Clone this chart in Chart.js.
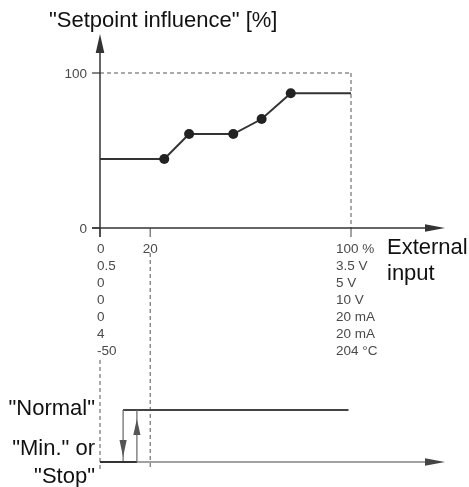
<!DOCTYPE html>
<html>
<head>
<meta charset="utf-8">
<script src="https://cdn.jsdelivr.net/npm/chart.js@4/dist/chart.umd.min.js"></script>
<style>
  html, body { margin: 0; padding: 0; background: #fff; }
  #wrap { width: 469px; height: 487px; position: relative; }
</style>
</head>
<body>
<div id="wrap"><canvas id="chart"></canvas></div>
<script>
// external input (% of range) -> setpoint influence (%)
var inputPct  = [0, 25.6, 35.5, 53.1, 64.4, 76, 100];
var influence = [44.5, 44.5, 60.6, 60.6, 70.3, 86.9, 86.9];
var isMarker  = [0, 1, 1, 1, 1, 1, 0];

// switching signal (0 = "Min."/"Stop", 1 = "Normal")
var switchOnX  = [0, 14.7, 14.7];
var switchOnY  = [0, 0, 1];
var switchOffX = [99, 9.2, 9.2];
var switchOffY = [1, 1, 0];

var yTicks = [0, 100];
var xTicks = [0, 20, 100];
var xTickLabels = [
  ['0', '0.5', '0', '0', '0', '4', '-50'],
  ['20'],
  ['100 %', '3.5 V', '5 V', '10 V', '20 mA', '20 mA', '204 °C']
];
var yTitle = '"Setpoint influence" [%]';
var xTitle = ['External', 'input'];
var stateLabels = ['"Normal"', '"Min." or', '"Stop"'];

var FONT = '"Liberation Sans", Arial, sans-serif';

function pts(xs, ys) {
  return xs.map(function (x, i) { return { x: x, y: ys[i] }; });
}

function line(c, x1, y1, x2, y2) {
  c.beginPath(); c.moveTo(x1, y1); c.lineTo(x2, y2); c.stroke();
}

// filled arrow head, tip at (x, y)
function head(c, x, y, dir, len, half) {
  c.beginPath();
  c.moveTo(x, y);
  if (dir === 'up')    { c.lineTo(x - half, y + len); c.lineTo(x + half, y + len); }
  if (dir === 'down')  { c.lineTo(x - half, y - len); c.lineTo(x + half, y - len); }
  if (dir === 'right') { c.lineTo(x - len, y - half); c.lineTo(x - len, y + half); }
  c.closePath(); c.fill();
}

var overlay = {
  id: 'overlay',
  beforeDatasetsDraw: function (chart) {
    var c = chart.ctx, X = chart.scales.x, Y = chart.scales.y, S = chart.scales.ys;
    var x0 = X.getPixelForValue(0), x20 = X.getPixelForValue(20), x100 = X.getPixelForValue(100);
    var y0 = Y.getPixelForValue(0), y100 = Y.getPixelForValue(100);
    var s0 = S.getPixelForValue(0);
    var xEnd = 445;
    c.save();

    // dashed guides
    c.strokeStyle = '#555'; c.lineWidth = 1; c.setLineDash([4, 3]);
    line(c, x0, y100, x100, y100);
    line(c, x100, y100, x100, y0);
    line(c, x20, y0 + 25, x20, s0 + 6);
    line(c, x0, y0 + 132, x0, s0 + 8);
    c.setLineDash([]);

    // tick marks
    c.strokeStyle = '#666'; c.lineWidth = 1.2;
    xTicks.forEach(function (v) {
      var px = X.getPixelForValue(v);
      line(c, px, y0, px, y0 + 9);
    });
    c.strokeStyle = '#333';
    yTicks.forEach(function (v) {
      var py = Y.getPixelForValue(v);
      line(c, x0 - 8, py, x0, py);
    });

    // axes
    c.strokeStyle = '#333'; c.fillStyle = '#333'; c.lineWidth = 1.5;
    line(c, x0, y0 + 9, x0, 50);
    head(c, x0, 34, 'up', 19, 4.3);
    line(c, x0 - 8, y0, xEnd - 18, y0);
    head(c, xEnd, y0, 'right', 20, 3.8);
    c.lineWidth = 1.2; c.strokeStyle = '#444';
    line(c, x0, s0, xEnd - 18, s0);
    c.fillStyle = '#444';
    head(c, xEnd, s0, 'right', 20, 3.8);
    c.restore();
  },
  afterDraw: function (chart) {
    var c = chart.ctx, X = chart.scales.x, Y = chart.scales.y, S = chart.scales.ys;
    var x0 = X.getPixelForValue(0);
    var y0 = Y.getPixelForValue(0);
    c.save();

    // hysteresis arrows
    c.fillStyle = '#555';
    head(c, X.getPixelForValue(switchOffX[2]), S.getPixelForValue(0) - 5, 'down', 17, 3.6);
    head(c, X.getPixelForValue(switchOnX[2]), S.getPixelForValue(1) + 9, 'up', 16, 3.6);

    // y tick labels
    c.font = '13.5px ' + FONT; c.fillStyle = '#4a4a4a';
    c.textAlign = 'right'; c.textBaseline = 'middle';
    yTicks.forEach(function (v) {
      c.fillText(String(v), x0 - 13, Y.getPixelForValue(v) + 1);
    });

    // x tick label columns
    var shift = [-3, -7.5, -15];
    c.textAlign = 'left';
    xTicks.forEach(function (v, i) {
      var px = X.getPixelForValue(v) + shift[i];
      xTickLabels[i].forEach(function (t, r) {
        c.fillText(t, px, y0 + 21 + r * 17.1);
      });
    });

    // titles
    c.fillStyle = '#111'; c.font = '22px ' + FONT;
    c.textBaseline = 'alphabetic'; c.textAlign = 'left';
    c.fillText(yTitle, 49, 27);
    c.textBaseline = 'middle';
    c.fillText(xTitle[0], 387, y0 + 20);
    c.fillText(xTitle[1], 387, y0 + 46);

    c.textAlign = 'right';
    c.fillText(stateLabels[0], 95, S.getPixelForValue(1) - 1);
    c.fillText(stateLabels[1], 95, S.getPixelForValue(0) - 13);
    c.fillText(stateLabels[2], 95, S.getPixelForValue(0) + 15);
    c.restore();
  }
};

var vertical = function (ctx) { return ctx.p0.parsed.x === ctx.p1.parsed.x; };

new Chart(document.getElementById('chart'), {
  type: 'scatter',
  data: {
    datasets: [{
      data: pts(inputPct, influence),
      showLine: true,
      yAxisID: 'y',
      borderColor: '#333',
      borderWidth: 2,
      pointRadius: isMarker.map(function (m) { return m ? 5 : 0; }),
      pointBackgroundColor: '#222',
      pointBorderWidth: 0,
      clip: false
    }, {
      data: pts(switchOnX, switchOnY),
      showLine: true,
      yAxisID: 'ys',
      borderColor: '#333',
      borderWidth: 2,
      pointRadius: 0,
      segment: {
        borderColor: function (ctx) { return vertical(ctx) ? '#666' : '#333'; },
        borderWidth: function (ctx) { return vertical(ctx) ? 1.2 : 2; }
      },
      clip: false
    }, {
      data: pts(switchOffX, switchOffY),
      showLine: true,
      yAxisID: 'ys',
      borderColor: '#444',
      borderWidth: 2,
      pointRadius: 0,
      segment: {
        borderColor: function (ctx) { return vertical(ctx) ? '#666' : '#444'; },
        borderWidth: function (ctx) { return vertical(ctx) ? 1.2 : 2; }
      },
      clip: false
    }]
  },
  options: {
    responsive: true,
    maintainAspectRatio: false,
    animation: false,
    layout: { padding: { left: 100, right: 118, top: 73, bottom: 25 } },
    plugins: { legend: { display: false }, tooltip: { enabled: false } },
    scales: {
      x: { type: 'linear', min: 0, max: 100, display: false },
      y: { type: 'linear', min: -151, max: 100, display: false },
      ys: { type: 'linear', min: 0, max: 7.48, display: false }
    }
  },
  plugins: [overlay]
});
</script>
</body>
</html>
